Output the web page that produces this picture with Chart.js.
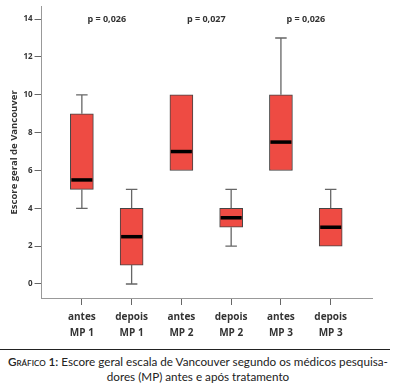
<!DOCTYPE html>
<html>
<head>
<meta charset="utf-8">
<script src="https://cdn.jsdelivr.net/npm/chart.js@4.4.0/dist/chart.umd.min.js"></script>
<style>
    body { margin: 0; background: #fff; width: 396px; height: 391px; overflow: hidden; position: relative; }
    #wrap { position: absolute; left: 0; top: 0; width: 396px; height: 345px; }
    #rule { position: absolute; left: 0; top: 349px; width: 390px; height: 0; border-top: 1.5px solid #222; }
    #caption { position: absolute; left: 0; top: 354px; width: 396px; text-align: center;
        font-family: Lato, "Open Sans", sans-serif; font-size: 11.7px; line-height: 15px; color: #222; }
    #caption b { font-variant: small-caps; font-weight: 600; }
</style>
</head>
<body>
<div id="wrap"><canvas id="chart"></canvas></div>
<div id="rule"></div>
<div id="caption"><b>Gráfico 1:</b> Escore geral escala de Vancouver segundo os médicos pesquisa-<br>dores (MP) antes e após tratamento</div>
<script>
// Box plot values
const categories = [['antes', 'MP 1'], ['depois', 'MP 1'], ['antes', 'MP 2'], ['depois', 'MP 2'], ['antes', 'MP 3'], ['depois', 'MP 3']];
const mins = [4, 0, 6, 2, 6, 2];
const q1s = [5, 1, 6, 3, 6, 2];
const medians = [5.5, 2.5, 7, 3.5, 7.5, 3];
const q3s = [9, 4, 10, 4, 10, 4];
const maxs = [10, 5, 10, 5, 13, 5];
const pValues = ['p = 0,026', 'p = 0,027', 'p = 0,026'];
const yTicks = [0, 2, 4, 6, 8, 10, 12, 14];

const boxColor = '#ee4b43';
const lineGray = '#666';

// whiskers, medians and p labels drawn with the chart scales
const boxExtras = {
    id: 'boxExtras',
    afterDatasetsDraw(chart) {
        const ctx = chart.ctx;
        const x = chart.scales.x;
        const y = chart.scales.y;
        const meta = chart.getDatasetMeta(0);
        ctx.save();
        meta.data.forEach((bar, i) => {
            const cx = x.getPixelForValue(i);
            const half = bar.width / 2;
            const cap = half / 2;
            ctx.strokeStyle = lineGray;
            ctx.lineWidth = 1.3;
            [[mins[i], q1s[i]], [q3s[i], maxs[i]]].forEach(([a, b]) => {
                if (a === b) return;
                const ya = y.getPixelForValue(a);
                const yb = y.getPixelForValue(b);
                const end = a < q1s[i] ? ya : yb;
                ctx.beginPath();
                ctx.moveTo(cx, ya);
                ctx.lineTo(cx, yb);
                ctx.moveTo(cx - cap, end);
                ctx.lineTo(cx + cap, end);
                ctx.stroke();
            });
            const ym = y.getPixelForValue(medians[i]);
            ctx.strokeStyle = '#000';
            ctx.lineWidth = 3.5;
            ctx.beginPath();
            ctx.moveTo(cx - half + 1, ym);
            ctx.lineTo(cx + half - 1, ym);
            ctx.stroke();
        });
        ctx.fillStyle = '#333';
        ctx.font = 'bold 9px "Open Sans", sans-serif';
        ctx.textAlign = 'center';
        ctx.textBaseline = 'middle';
        pValues.forEach((p, k) => {
            const px = (x.getPixelForValue(2 * k) + x.getPixelForValue(2 * k + 1)) / 2;
            ctx.fillText(p, px, y.getPixelForValue(14));
        });
        ctx.restore();
    }
};

const ctx = document.getElementById('chart').getContext('2d');
new Chart(ctx, {
    type: 'bar',
    data: {
        datasets: [{
            data: categories.map((c, i) => ({ x: i, y: [q1s[i], q3s[i]] })),
            backgroundColor: boxColor,
            borderColor: '#444',
            borderWidth: 1,
            borderSkipped: false,
            barThickness: 23
        }]
    },
    options: {
        responsive: true,
        maintainAspectRatio: false,
        animation: false,
        layout: { padding: { left: 9, right: 24, top: 3, bottom: 0 } },
        plugins: {
            legend: { display: false },
            tooltip: { enabled: false }
        },
        scales: {
            x: {
                type: 'linear',
                offset: false,
                min: -0.81,
                max: 5.83,
                afterBuildTicks: axis => {
                    axis.ticks = categories.map((c, i) => ({ value: i }));
                },
                ticks: {
                    callback: value => categories[value],
                    color: '#333',
                    font: { family: '"Open Sans", sans-serif', size: 10, weight: 'bold', lineHeight: 1.6 },
                    padding: 4,
                    maxRotation: 0
                },
                grid: { offset: false, drawOnChartArea: false, drawTicks: true, tickLength: 7, color: lineGray },
                border: { color: '#999', width: 1 }
            },
            y: {
                min: -0.74,
                max: 14.65,
                afterBuildTicks: axis => {
                    axis.ticks = yTicks.map(v => ({ value: v }));
                },
                ticks: {
                    color: '#333',
                    font: { family: '"Open Sans", sans-serif', size: 8, weight: 'bold' },
                    padding: 2
                },
                grid: { drawOnChartArea: false, drawTicks: true, tickLength: 7, color: lineGray },
                border: { color: '#999', width: 1 },
                title: {
                    display: true,
                    text: 'Escore geral de Vancouver',
                    color: '#333',
                    font: { family: '"Open Sans", sans-serif', size: 9.5, weight: 'bold' },
                    padding: { top: 0, bottom: 1 }
                }
            }
        }
    },
    plugins: [boxExtras]
});
</script>
</body>
</html>
